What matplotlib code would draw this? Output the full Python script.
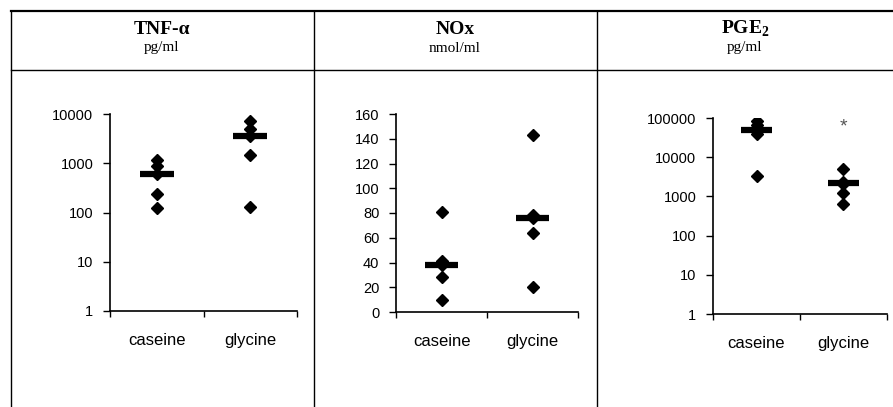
import numpy as np
import matplotlib.pyplot as plt
from matplotlib.lines import Line2D

plt.rcParams['font.family'] = ['Liberation Sans', 'DejaVu Sans']
plt.rcParams['mathtext.fontset'] = 'custom'
plt.rcParams['mathtext.rm'] = 'Liberation Serif'
plt.rcParams['mathtext.bf'] = 'Liberation Serif:bold'

groups = ['caseine', 'glycine']

# TNF-alpha, pg/ml
tnf_caseine = [1150, 870, 600, 240, 125]
tnf_glycine = [7300, 5000, 3500, 1500, 130]
tnf_median = [600, 3500]
tnf_ticks = [1, 10, 100, 1000, 10000]

# NOx, nmol/ml
nox_caseine = [81, 41, 38, 28, 10]
nox_glycine = [143, 78, 76, 64, 20]
nox_median = [38, 76]
nox_ticks = [0, 20, 40, 60, 80, 100, 120, 140, 160]

# PGE2, pg/ml
pge_caseine = [85000, 65000, 50000, 40000, 3400]
pge_glycine = [5000, 2300, 2100, 1200, 650]
pge_median = [49000, 2200]
pge_ticks = [1, 10, 100, 1000, 10000, 100000]

W, H = 893, 407
fig = plt.figure(figsize=(W / 100, H / 100), dpi=100)


def px(x0, y0, x1, y1):
    # pixel box (top-left origin) -> figure fractions
    return [x0 / W, 1 - y1 / H, (x1 - x0) / W, (y1 - y0) / H]


def panel(box, caseine, glycine, median, ticks, log, star=None):
    ax = fig.add_axes(px(*box))
    if log:
        ax.set_yscale('log')
    for i, vals in enumerate([caseine, glycine]):
        ax.plot([i + 0.5] * len(vals), vals, 'D', color='black', markersize=6.3, zorder=3)
        ax.hlines(median[i], i + 0.5 - 0.18, i + 0.5 + 0.18, color='black', lw=4.5, zorder=4)
    ax.set_xlim(0, 2)
    ax.set_ylim(ticks[0], ticks[-1])
    ax.set_yticks(ticks)
    ax.set_yticklabels([str(t) for t in ticks])
    ax.yaxis.set_minor_locator(plt.NullLocator())
    ax.set_xticks([0, 1, 2])
    ax.set_xticklabels([])
    ax.set_xticks([0.5, 1.5], minor=True)
    ax.set_xticklabels(groups, minor=True)
    ax.tick_params(axis='x', which='minor', length=0, pad=16, labelsize=12)
    ax.tick_params(axis='x', which='major', direction='out', length=4, width=1)
    ax.tick_params(axis='y', direction='out', length=5, width=1, labelsize=10.5, pad=7)
    for s in ['top', 'right']:
        ax.spines[s].set_visible(False)
    for s in ['left', 'bottom']:
        ax.spines[s].set_linewidth(1.2)
    ax.patch.set_alpha(0)
    if star is not None:
        ax.text(1.5, star, '*', ha='center', va='center', fontsize=14, color='#555555')
    return ax


panel((110, 114, 297, 311), tnf_caseine, tnf_glycine, tnf_median, tnf_ticks, True)
panel((396, 114, 578, 312), nox_caseine, nox_glycine, nox_median, nox_ticks, False)
panel((713, 118, 887, 314), pge_caseine, pge_glycine, pge_median, pge_ticks, True, star=60000)

# table frame
def fline(xs, ys, lw):
    fig.add_artist(Line2D([x / W for x in xs], [1 - y / H for y in ys],
                          color='black', lw=lw, transform=fig.transFigure))

fline([11, 893], [11, 11], 1.6)
fline([11, 893], [70, 70], 1.0)
for x in [11, 314, 597]:
    fline([x, x], [11, 407], 1.0)

titles = ['TNF-α', 'NOx', r'PGE$_{\mathbf{2}}$']
units = ['pg/ml', 'nmol/ml', 'pg/ml']
centers = [162, 455, 745]
for c, t, u in zip(centers, titles, units):
    fig.text(c / W, 1 - 29 / H, t, ha='center', va='center', family='Liberation Serif',
             fontweight='bold', fontsize=14)
    fig.text(c / W, 1 - 48 / H, u, ha='center', va='center', family='Liberation Serif',
             fontsize=11)

fig.savefig('out.png', dpi=100)
